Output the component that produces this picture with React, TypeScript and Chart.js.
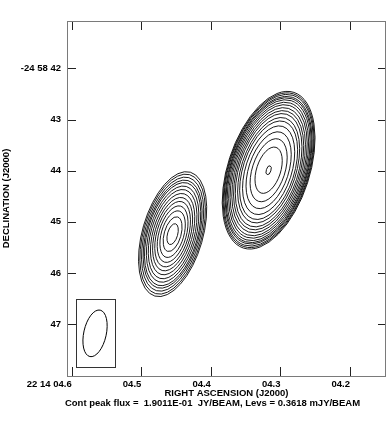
import React, { useEffect, useRef } from "react";
import { Chart, registerables } from "chart.js";

Chart.register(...registerables);

// ---- axis ticks (RA seconds, Dec arcsec offsets) ----
const raTicks = [4.6, 4.5, 4.4, 4.3, 4.2];
const raLabels = ["22 14 04.6", "04.5", "04.4", "04.3", "04.2"];
const decTicks = [42, 43, 44, 45, 46, 47];
const decLabels = ["-24 58 42", "43", "44", "45", "46", "47"];
const raRange = [4.1483, 4.6068];
const decRange = [41.072, 48.014];

// ---- sources: centre, position angle, axis ratio ----
const sourceNames = ["east", "west"];
const sourceRA = [4.455, 4.317];
const sourceDec = [45.24, 43.99];
const sourcePA = [-16, -18]; // degrees, east of north
const sourceAxisRatio = [0.47, 0.5];
// contour semi-major axes (arcsec), innermost to outermost
const eastContourMajors = [0.21, 0.35, 0.47, 0.57, 0.66, 0.74, 0.82, 0.9, 0.97, 1.04, 1.09, 1.15, 1.21, 1.26];
const westContourMajors = [0.09, 0.47, 0.64, 0.78, 0.9, 1.0, 1.07, 1.15, 1.21, 1.27, 1.33, 1.38, 1.43, 1.47, 1.5, 1.54, 1.57, 1.6];

// ---- restoring beam ----
const beamRA = 4.5665;
const beamDec = 47.18;
const beamMajor = 0.465;
const beamMinor = 0.22;
const beamPA = -12.5;
const beamBoxRA = [4.5943, 4.5382];
const beamBoxDec = [46.5, 47.83];

const xTitle = "RIGHT ASCENSION (J2000)";
const yTitle = "DECLINATION (J2000)";
const caption = "Cont peak flux =  1.9011E-01  JY/BEAM, Levs = 0.3618 mJY/BEAM";

const FONT = "'Liberation Sans', Arial, Helvetica, sans-serif";
const FS = 9.5;

const contourPlugin = {
  id: "contours",
  afterDatasetsDraw(chart: any) {
    const { ctx, chartArea, scales } = chart;
    const xs = scales.x;
    const ys = scales.y;
    const pxPerArcsec = Math.abs(ys.getPixelForValue(45) - ys.getPixelForValue(44));
    ctx.save();
    ctx.beginPath();
    ctx.rect(chartArea.left, chartArea.top, chartArea.right - chartArea.left, chartArea.bottom - chartArea.top);
    ctx.clip();
    ctx.strokeStyle = "#000";
    ctx.lineWidth = 0.9;
    const sets = [eastContourMajors, westContourMajors];
    sets.forEach((majors, i) => {
      const cx = xs.getPixelForValue(sourceRA[i]);
      const cy = ys.getPixelForValue(sourceDec[i]);
      const rot = (-sourcePA[i] * Math.PI) / 180;
      majors.forEach((a) => {
        const ry = a * pxPerArcsec;
        const rx = ry * sourceAxisRatio[i];
        ctx.beginPath();
        ctx.ellipse(cx, cy, rx, ry, rot, 0, Math.PI * 2);
        ctx.stroke();
      });
    });
    // beam box and beam
    const bx0 = xs.getPixelForValue(beamBoxRA[0]);
    const bx1 = xs.getPixelForValue(beamBoxRA[1]);
    const by0 = ys.getPixelForValue(beamBoxDec[0]);
    const by1 = ys.getPixelForValue(beamBoxDec[1]);
    ctx.strokeStyle = "#333";
    ctx.lineWidth = 1;
    ctx.strokeRect(Math.round(bx0) + 0.5, Math.round(by0) + 0.5, Math.round(bx1 - bx0), Math.round(by1 - by0));
    ctx.strokeStyle = "#000";
    ctx.beginPath();
    ctx.ellipse(
      xs.getPixelForValue(beamRA),
      ys.getPixelForValue(beamDec),
      beamMinor * pxPerArcsec,
      beamMajor * pxPerArcsec,
      (-beamPA * Math.PI) / 180,
      0,
      Math.PI * 2
    );
    ctx.stroke();
    ctx.restore();
  },
};

const framePlugin = {
  id: "frame",
  afterDraw(chart: any) {
    const { ctx, chartArea, scales } = chart;
    const { left, right, top, bottom } = chartArea;
    const tl = 9;
    ctx.save();
    ctx.strokeStyle = "#222";
    ctx.lineWidth = 1;
    ctx.beginPath();
    raTicks.forEach((v) => {
      const x = Math.round(scales.x.getPixelForValue(v)) + 0.5;
      ctx.moveTo(x, bottom);
      ctx.lineTo(x, bottom - tl);
      ctx.moveTo(x, top);
      ctx.lineTo(x, top + tl);
    });
    decTicks.forEach((v) => {
      const y = Math.round(scales.y.getPixelForValue(v)) + 0.5;
      ctx.moveTo(left, y);
      ctx.lineTo(left + tl, y);
      ctx.moveTo(right, y);
      ctx.lineTo(right - tl + 1, y);
    });
    ctx.stroke();
    ctx.strokeStyle = "#7a7a7a";
    ctx.strokeRect(left + 0.5, top + 0.5, right - left - 1, bottom - top);
    // caption
    ctx.fillStyle = "#000";
    ctx.font = `bold ${FS}px ${FONT}`;
    ctx.textAlign = "center";
    ctx.textBaseline = "middle";
    ctx.fillText(caption, 212.5, 403);
    ctx.restore();
  },
};

export default function App() {
  const ref = useRef<HTMLCanvasElement | null>(null);
  useEffect(() => {
    if (!ref.current) return;
    const chart = new Chart(ref.current, {
      type: "scatter",
      data: { datasets: [] },
      plugins: [contourPlugin, framePlugin],
      options: {
        responsive: false,
        animation: false,
        layout: { padding: { top: 21, right: 6, left: 0, bottom: 0 } },
        plugins: { legend: { display: false }, tooltip: { enabled: false } },
        scales: {
          x: {
            type: "linear",
            position: "bottom",
            reverse: true,
            min: raRange[0],
            max: raRange[1],
            grid: { display: false, drawTicks: false },
            border: { display: false },
            afterBuildTicks: (s: any) => {
              s.ticks = raTicks.map((v) => ({ value: v }));
            },
            afterFit: (s: any) => {
              s.height = 62;
            },
            ticks: {
              autoSkip: false,
              maxRotation: 0,
              minRotation: 0,
              align: "end",
              padding: 3,
              color: "#000",
              font: { family: FONT, size: FS, weight: "bold" },
              callback: (v: any) => raLabels[raTicks.findIndex((t) => Math.abs(t - v) < 1e-6)] ?? "",
            },
            title: {
              display: true,
              text: xTitle,
              color: "#000",
              font: { family: FONT, size: FS, weight: "bold" },
              padding: { top: 0, bottom: 39.3 },
            },
          },
          y: {
            type: "linear",
            position: "left",
            reverse: true,
            min: decRange[0],
            max: decRange[1],
            grid: { display: false, drawTicks: false },
            border: { display: false },
            afterBuildTicks: (s: any) => {
              s.ticks = decTicks.map((v) => ({ value: v }));
            },
            afterFit: (s: any) => {
              s.width = 67;
            },
            ticks: {
              autoSkip: false,
              padding: 6,
              color: "#000",
              font: { family: FONT, size: FS, weight: "bold" },
              callback: (v: any) => decLabels[decTicks.findIndex((t) => Math.abs(t - v) < 1e-6)] ?? "",
            },
            title: {
              display: true,
              text: yTitle,
              color: "#000",
              font: { family: FONT, size: FS, weight: "bold" },
              padding: { top: 0.5, bottom: 0 },
            },
          },
        },
      } as any,
    });
    return () => chart.destroy();
  }, []);
  return (
    <div style={{ position: "fixed", left: 0, top: 0, width: 392, height: 438, background: "#fff" }}>
      <canvas ref={ref} width={392} height={438} style={{ display: "block" }} />
    </div>
  );
}
